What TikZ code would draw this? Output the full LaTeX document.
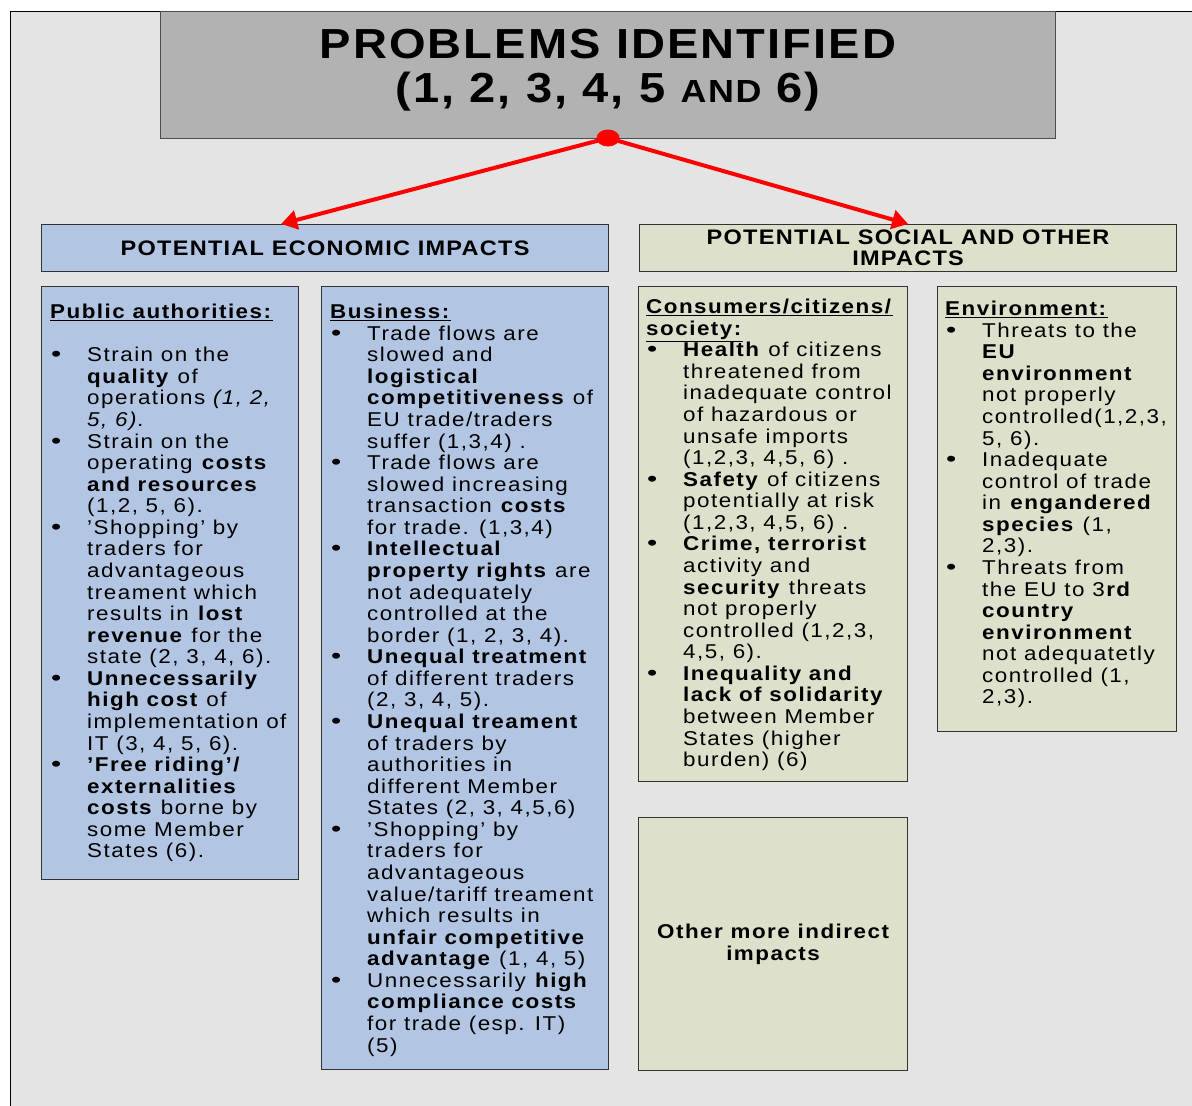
\documentclass[tikz,border=0pt]{standalone}
\usepackage{fontspec}
\setmainfont{Liberation Sans}[FakeStretch=1.12,LetterSpace=7.5]
\usetikzlibrary{arrows.meta,shapes.geometric}

\definecolor{panelgray}{RGB}{228,228,228}
\definecolor{titlegray}{RGB}{178,178,178}
\definecolor{econblue}{RGB}{178,198,228}
\definecolor{socgreen}{RGB}{221,225,204}

\newcommand{\bul}{\makebox[37pt][l]{\hspace*{1pt}\scalebox{1.3}[1.1]{\textbullet}}}
\newcommand{\ind}{\makebox[37pt]{}}

\begin{document}
\begin{tikzpicture}[x=1pt,y=-1pt,
    box/.style={draw=black!80,line width=1.2pt,anchor=north west,inner sep=0pt},
    econbox/.style={box,fill=econblue},
    socbox/.style={box,fill=socgreen},
    bodytext/.style={anchor=north west,inner sep=0pt,align=left,
      font=\fontsize{20}{21.57}\selectfont},
    headtext/.style={font=\fontsize{21}{21}\selectfont\bfseries\addfontfeatures{LetterSpace=6},align=center},
    redarrow/.style={red,line width=4pt,-{Triangle[length=16pt,width=19pt]}}]
  \useasboundingbox (0,0) rectangle (1192,1106);
  \fill[panelgray] (10.5,11.5) rectangle (1192,1106);
  \draw[line width=1.5pt] (10.5,1106) -- (10.5,11.5) -- (1192,11.5);

  \node[box,draw=black!70,fill=titlegray,minimum width=895,minimum height=127] (probbox) at (160,11) {};
  \node[font=\fontsize{42}{44}\selectfont\bfseries\addfontfeatures{LetterSpace=5},align=center] (probtxt) at (608,70)
    {PROBLEMS IDENTIFIED\\(1, 2, 3, 4, 5 {\fontsize{32}{44}\selectfont AND} 6)};

  \node[econbox,minimum width=567,minimum height=47] (econhead) at (41,224) {};
  \node[headtext] at (econhead.center) {POTENTIAL ECONOMIC IMPACTS};
  \node[socbox,minimum width=537,minimum height=47] (sochead) at (639,224) {};
  \node[headtext] at (sochead.center) {POTENTIAL SOCIAL AND OTHER\\IMPACTS};

  \node[econbox,minimum width=257,minimum height=593] (pubbox) at (41,286) {};
  \node[econbox,minimum width=287,minimum height=783] (busbox) at (321,286) {};
  \node[socbox,minimum width=269,minimum height=495] (conbox) at (638,286) {};
  \node[socbox,minimum width=239,minimum height=445] (envbox) at (937,286) {};
  \node[socbox,minimum width=269,minimum height=253,
    font=\fontsize{20}{21.57}\selectfont\bfseries,align=center] (otherbox) at (638,817)
    {Other more indirect\\impacts};

  \draw[redarrow] (608,138) -- ([xshift=-44pt]econhead.north);
  \draw[redarrow] (608,138) -- (sochead.north);
  \node[ellipse,fill=red,minimum width=23,minimum height=17,inner sep=0pt] (dot) at (608,138) {};

  \node[bodytext] (pubtxt) at (50,304) {%
    \underline{\textbf{Public authorities:}}\\[21.57pt]
    \bul Strain on the\\
    \ind \textbf{quality} of\\
    \ind operations \textit{(1, 2,}\\
    \ind \textit{5, 6).}\\
    \bul Strain on the\\
    \ind operating \textbf{costs}\\
    \ind \textbf{and resources}\\
    \ind (1,2, 5, 6).\\
    \bul ’Shopping’ by\\
    \ind traders for\\
    \ind advantageous\\
    \ind treament which\\
    \ind results in \textbf{lost}\\
    \ind \textbf{revenue} for the\\
    \ind state (2, 3, 4, 6).\\
    \bul \textbf{Unnecessarily}\\
    \ind \textbf{high cost} of\\
    \ind implementation of\\
    \ind IT (3, 4, 5, 6).\\
    \bul \textbf{’Free riding’/}\\
    \ind \textbf{externalities}\\
    \ind \textbf{costs} borne by\\
    \ind some Member\\
    \ind States (6).};

  \node[bodytext] (bustxt) at (330,304) {%
    \underline{\textbf{Business:}}\\
    \bul Trade flows are\\
    \ind slowed and\\
    \ind \textbf{logistical}\\
    \ind \textbf{competitiveness} of\\
    \ind EU trade/traders\\
    \ind suffer (1,3,4) .\\
    \bul Trade flows are\\
    \ind slowed increasing\\
    \ind transaction \textbf{costs}\\
    \ind for trade. (1,3,4)\\
    \bul \textbf{Intellectual}\\
    \ind \textbf{property rights} are\\
    \ind not adequately\\
    \ind controlled at the\\
    \ind border (1, 2, 3, 4).\\
    \bul \textbf{Unequal treatment}\\
    \ind of different traders\\
    \ind (2, 3, 4, 5).\\
    \bul \textbf{Unequal treament}\\
    \ind of traders by\\
    \ind authorities in\\
    \ind different Member\\
    \ind States (2, 3, 4,5,6)\\
    \bul ’Shopping’ by\\
    \ind traders for\\
    \ind advantageous\\
    \ind value/tariff treament\\
    \ind which results in\\
    \ind \textbf{unfair competitive}\\
    \ind \textbf{advantage} (1, 4, 5)\\
    \bul Unnecessarily \textbf{high}\\
    \ind \textbf{compliance costs}\\
    \ind for trade (esp. IT)\\
    \ind (5)};

  \node[bodytext] (contxt) at (646,299) {%
    \underline{\textbf{Consumers/citizens/}}\\
    \underline{\textbf{society:}}\\
    \bul \textbf{Health} of citizens\\
    \ind threatened from\\
    \ind inadequate control\\
    \ind of hazardous or\\
    \ind unsafe imports\\
    \ind (1,2,3, 4,5, 6) .\\
    \bul \textbf{Safety} of citizens\\
    \ind potentially at risk\\
    \ind (1,2,3, 4,5, 6) .\\
    \bul \textbf{Crime, terrorist}\\
    \ind activity and\\
    \ind \textbf{security} threats\\
    \ind not properly\\
    \ind controlled (1,2,3,\\
    \ind 4,5, 6).\\
    \bul \textbf{Inequality and}\\
    \ind \textbf{lack of solidarity}\\
    \ind between Member\\
    \ind States (higher\\
    \ind burden) (6)};

  \node[bodytext] (envtxt) at (945,301) {%
    \underline{\textbf{Environment:}}\\
    \bul Threats to the\\
    \ind \textbf{EU}\\
    \ind \textbf{environment}\\
    \ind not properly\\
    \ind controlled(1,2,3,\\
    \ind 5, 6).\\
    \bul Inadequate\\
    \ind control of trade\\
    \ind in \textbf{engandered}\\
    \ind \textbf{species} (1,\\
    \ind 2,3).\\
    \bul Threats from\\
    \ind the EU to 3\textbf{rd}\\
    \ind \textbf{country}\\
    \ind \textbf{environment}\\
    \ind not adequatetly\\
    \ind controlled (1,\\
    \ind 2,3).};
\end{tikzpicture}
\end{document}
